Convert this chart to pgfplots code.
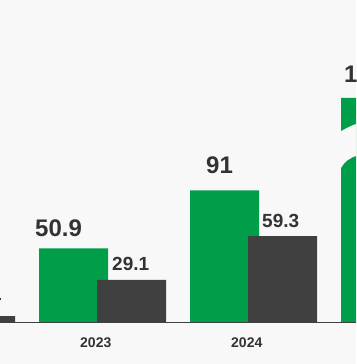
\documentclass[border=0pt]{standalone}
\usepackage{pgfplots}
\pgfplotsset{compat=1.18}
\usepackage{fontspec}
\setmainfont{Liberation Sans}
\definecolor{bgc}{RGB}{248,248,248}
\definecolor{grn}{RGB}{0,158,73}
\definecolor{drk}{RGB}{64,64,64}
\definecolor{txt}{RGB}{51,51,51}
\begin{document}
\begin{tikzpicture}
\begin{axis}[
  scale only axis, width=356pt, height=364pt,
  xmin=0, xmax=356, ymin=-29.0, ymax=222.5,
  axis lines=none, clip=true,
  axis background/.style={fill=bgc},
  ybar, bar width=69, bar shift=0pt,
]
% green series (previous-year comparisons), x = bar centres
\addplot[fill=grn, draw=none] coordinates {(73.5,50.9) (224.5,91) (375.5,154.8)};
% dark series
\addplot[fill=drk, draw=none] coordinates {(-19.5,4.1) (131.5,29.1) (282.5,59.3)};
% baseline
\draw[drk, line width=1pt] (axis cs:0,0) -- (axis cs:356,0);
% axis break on the last bar
\fill[bgc] (axis cs:340,131.5) .. controls (axis cs:348,134.5) and (axis cs:352,136) .. (axis cs:357,137)
  -- (axis cs:357,115) .. controls (axis cs:350,113.5) and (axis cs:344,111) .. (axis cs:340,105) -- cycle;
% value labels
\begin{scope}[every node/.style={inner sep=0pt, anchor=base west, text=txt, font=\bfseries\fontsize{24}{24}\selectfont}]
\node at (axis cs:35,59.4) {50.9};
\node at (axis cs:206,102.3) {91};
\node at (axis cs:344,165.8) {155};
\end{scope}
\begin{scope}[every node/.style={inner sep=0pt, anchor=base west, text=txt, font=\bfseries\fontsize{19}{19}\selectfont}]
\node at (axis cs:112,35.9) {29.1};
\node at (axis cs:262,65.6) {59.3};
\node[anchor=base east] at (axis cs:2,15.2) {4.1};
\end{scope}
\begin{scope}[every node/.style={inner sep=0pt, anchor=base west, text=txt, font=\bfseries\fontsize{14}{14}\selectfont}]
\node at (axis cs:80,-17.3) {2023};
\node at (axis cs:231,-17.3) {2024};
\end{scope}
\end{axis}
\pgfresetboundingbox
\useasboundingbox (current axis.south west) rectangle (current axis.north east);
\end{tikzpicture}
\end{document}
